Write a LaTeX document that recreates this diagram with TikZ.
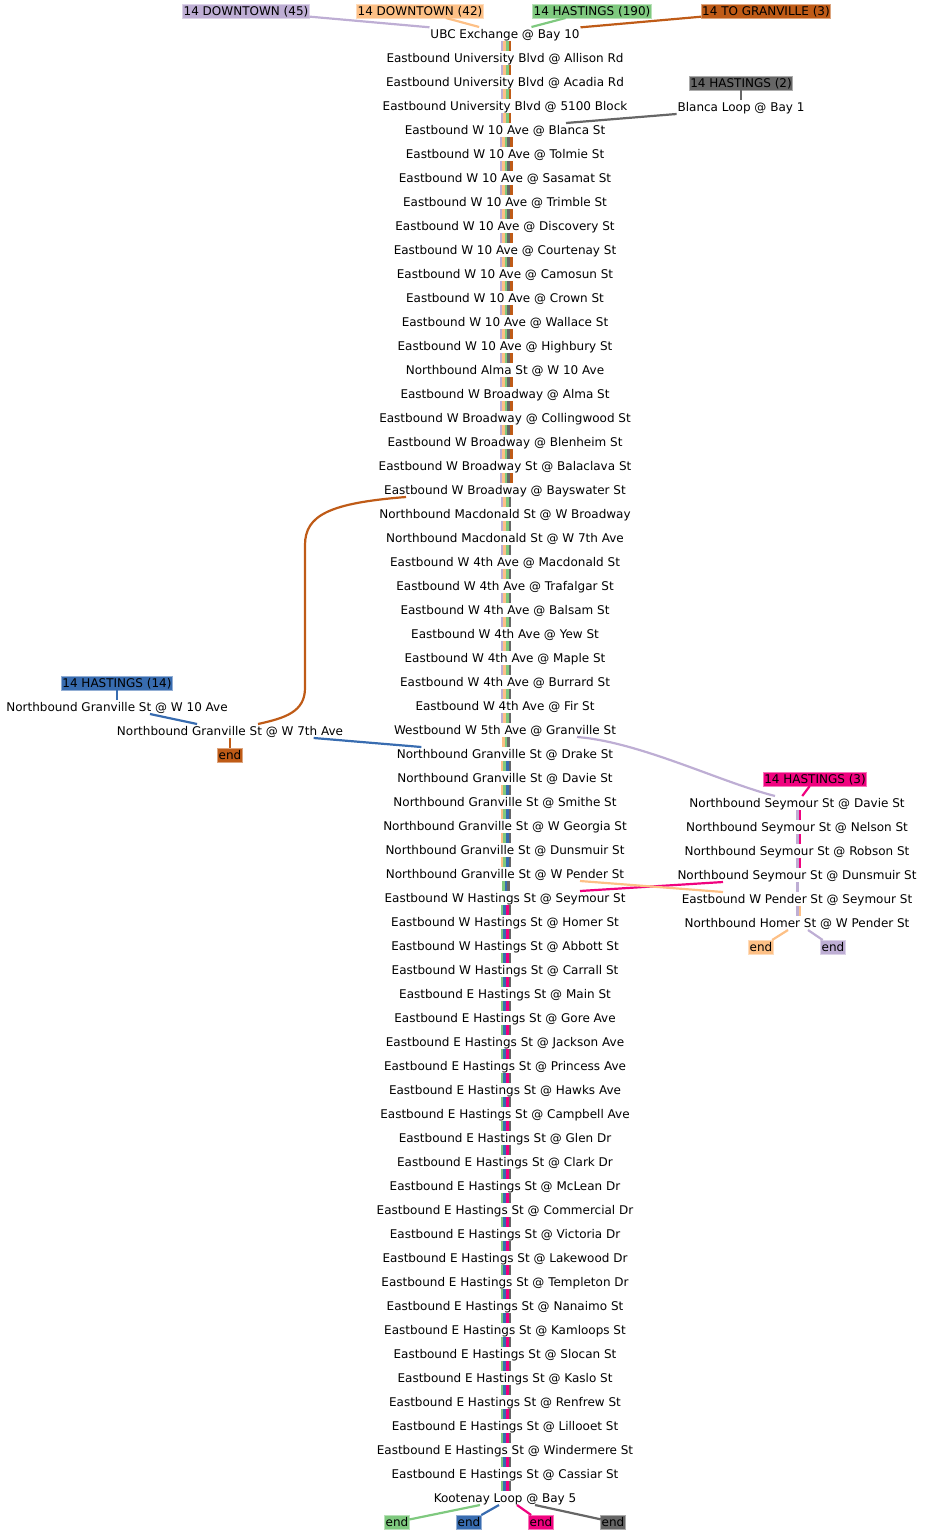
\documentclass[tikz,border=0pt]{standalone}
\usepackage{fontspec}
\setmainfont{DejaVu Sans}
\definecolor{routeGreen}{HTML}{7FC97F}
\definecolor{routeLav}{HTML}{BEAED4}
\definecolor{routePeach}{HTML}{FDC086}
\definecolor{routeBlue}{HTML}{386CB0}
\definecolor{routeMag}{HTML}{F0027F}
\definecolor{routeOrange}{HTML}{BF5B17}
\definecolor{routeGrey}{HTML}{666666}
\usepackage{tikz}
\usetikzlibrary{positioning}

\begin{document}
\begin{tikzpicture}[x=1pt, y=-1pt,
                    stopbox/.style={font=\fontsize{12}{14}\selectfont,
                                    text height=10.5pt, text depth=1.5pt,
                                    inner sep=1pt, outer sep=0pt},
                    tagbox/.style={stopbox, fill=#1, draw=#1!55!white,
                                   line width=0.6pt},
                    conn/.style={line width=2.2pt},
                    segbar/.style={line width=2.6pt},
                    node distance=10pt
                ]
    \useasboundingbox (0,0) rectangle (926,1536);

    % route labels
    \node[tagbox=routeLav] (lab45) at (246,11) {14 DOWNTOWN (45)};
    \node[tagbox=routePeach] (lab42) at (420,11) {14 DOWNTOWN (42)};
    \node[tagbox=routeGreen] (lab190) at (592,11) {14 HASTINGS (190)};
    \node[tagbox=routeOrange] (labTo) at (766,11) {14 TO GRANVILLE (3)};

    % main line
    \node[stopbox] (m0) at (505,34) {UBC Exchange @ Bay 10};
    \node[stopbox, below=of m0] (m1) {Eastbound University Blvd @ Allison Rd};
    \node[stopbox, below=of m1] (m2) {Eastbound University Blvd @ Acadia Rd};
    \node[stopbox, below=of m2] (m3) {Eastbound University Blvd @ 5100 Block};
    \node[stopbox, below=of m3] (m4) {Eastbound W 10 Ave @ Blanca St};
    \node[stopbox, below=of m4] (m5) {Eastbound W 10 Ave @ Tolmie St};
    \node[stopbox, below=of m5] (m6) {Eastbound W 10 Ave @ Sasamat St};
    \node[stopbox, below=of m6] (m7) {Eastbound W 10 Ave @ Trimble St};
    \node[stopbox, below=of m7] (m8) {Eastbound W 10 Ave @ Discovery St};
    \node[stopbox, below=of m8] (m9) {Eastbound W 10 Ave @ Courtenay St};
    \node[stopbox, below=of m9] (m10) {Eastbound W 10 Ave @ Camosun St};
    \node[stopbox, below=of m10] (m11) {Eastbound W 10 Ave @ Crown St};
    \node[stopbox, below=of m11] (m12) {Eastbound W 10 Ave @ Wallace St};
    \node[stopbox, below=of m12] (m13) {Eastbound W 10 Ave @ Highbury St};
    \node[stopbox, below=of m13] (m14) {Northbound Alma St @ W 10 Ave};
    \node[stopbox, below=of m14] (m15) {Eastbound W Broadway @ Alma St};
    \node[stopbox, below=of m15] (m16) {Eastbound W Broadway @ Collingwood St};
    \node[stopbox, below=of m16] (m17) {Eastbound W Broadway @ Blenheim St};
    \node[stopbox, below=of m17] (m18) {Eastbound W Broadway St @ Balaclava St};
    \node[stopbox, below=of m18] (m19) {Eastbound W Broadway @ Bayswater St};
    \node[stopbox, below=of m19] (m20) {Northbound Macdonald St @ W Broadway};
    \node[stopbox, below=of m20] (m21) {Northbound Macdonald St @ W 7th Ave};
    \node[stopbox, below=of m21] (m22) {Eastbound W 4th Ave @ Macdonald St};
    \node[stopbox, below=of m22] (m23) {Eastbound W 4th Ave @ Trafalgar St};
    \node[stopbox, below=of m23] (m24) {Eastbound W 4th Ave @ Balsam St};
    \node[stopbox, below=of m24] (m25) {Eastbound W 4th Ave @ Yew St};
    \node[stopbox, below=of m25] (m26) {Eastbound W 4th Ave @ Maple St};
    \node[stopbox, below=of m26] (m27) {Eastbound W 4th Ave @ Burrard St};
    \node[stopbox, below=of m27] (m28) {Eastbound W 4th Ave @ Fir St};
    \node[stopbox, below=of m28] (m29) {Westbound W 5th Ave @ Granville St};
    \node[stopbox, below=of m29] (m30) {Northbound Granville St @ Drake St};
    \node[stopbox, below=of m30] (m31) {Northbound Granville St @ Davie St};
    \node[stopbox, below=of m31] (m32) {Northbound Granville St @ Smithe St};
    \node[stopbox, below=of m32] (m33) {Northbound Granville St @ W Georgia St};
    \node[stopbox, below=of m33] (m34) {Northbound Granville St @ Dunsmuir St};
    \node[stopbox, below=of m34] (m35) {Northbound Granville St @ W Pender St};
    \node[stopbox, below=of m35] (m36) {Eastbound W Hastings St @ Seymour St};
    \node[stopbox, below=of m36] (m37) {Eastbound W Hastings St @ Homer St};
    \node[stopbox, below=of m37] (m38) {Eastbound W Hastings St @ Abbott St};
    \node[stopbox, below=of m38] (m39) {Eastbound W Hastings St @ Carrall St};
    \node[stopbox, below=of m39] (m40) {Eastbound E Hastings St @ Main St};
    \node[stopbox, below=of m40] (m41) {Eastbound E Hastings St @ Gore Ave};
    \node[stopbox, below=of m41] (m42) {Eastbound E Hastings St @ Jackson Ave};
    \node[stopbox, below=of m42] (m43) {Eastbound E Hastings St @ Princess Ave};
    \node[stopbox, below=of m43] (m44) {Eastbound E Hastings St @ Hawks Ave};
    \node[stopbox, below=of m44] (m45) {Eastbound E Hastings St @ Campbell Ave};
    \node[stopbox, below=of m45] (m46) {Eastbound E Hastings St @ Glen Dr};
    \node[stopbox, below=of m46] (m47) {Eastbound E Hastings St @ Clark Dr};
    \node[stopbox, below=of m47] (m48) {Eastbound E Hastings St @ McLean Dr};
    \node[stopbox, below=of m48] (m49) {Eastbound E Hastings St @ Commercial Dr};
    \node[stopbox, below=of m49] (m50) {Eastbound E Hastings St @ Victoria Dr};
    \node[stopbox, below=of m50] (m51) {Eastbound E Hastings St @ Lakewood Dr};
    \node[stopbox, below=of m51] (m52) {Eastbound E Hastings St @ Templeton Dr};
    \node[stopbox, below=of m52] (m53) {Eastbound E Hastings St @ Nanaimo St};
    \node[stopbox, below=of m53] (m54) {Eastbound E Hastings St @ Kamloops St};
    \node[stopbox, below=of m54] (m55) {Eastbound E Hastings St @ Slocan St};
    \node[stopbox, below=of m55] (m56) {Eastbound E Hastings St @ Kaslo St};
    \node[stopbox, below=of m56] (m57) {Eastbound E Hastings St @ Renfrew St};
    \node[stopbox, below=of m57] (m58) {Eastbound E Hastings St @ Lillooet St};
    \node[stopbox, below=of m58] (m59) {Eastbound E Hastings St @ Windermere St};
    \node[stopbox, below=of m59] (m60) {Eastbound E Hastings St @ Cassiar St};
    \node[stopbox, below=of m60] (m61) {Kootenay Loop @ Bay 5};

    \node[tagbox=routeGreen, below=of m61, xshift=-108pt] (endGrn) {end};
    \node[tagbox=routeBlue, below=of m61, xshift=-36pt] (endBlu) {end};
    \node[tagbox=routeMag, below=of m61, xshift=36pt] (endMag) {end};
    \node[tagbox=routeGrey, below=of m61, xshift=108pt] (endGry) {end};

    % Blanca branch
    \node[stopbox] (blanca) at (741,107) {Blanca Loop @ Bay 1};
    \node[tagbox=routeGrey, above=of blanca] (lab2) {14 HASTINGS (2)};

    % Granville branch
    \node[stopbox] (gran10) at (117,707) {Northbound Granville St @ W 10 Ave};
    \node[tagbox=routeBlue, above=of gran10] (lab14) {14 HASTINGS (14)};
    \node[stopbox] (gran7) at (230,731) {Northbound Granville St @ W 7th Ave};
    \node[tagbox=routeOrange, below=of gran7] (endOrg) {end};

    % Seymour branch
    \node[stopbox] (sey1) at (797,803) {Northbound Seymour St @ Davie St};
    \node[tagbox=routeMag, above=of sey1, xshift=18pt] (lab3) {14 HASTINGS (3)};
    \node[stopbox, below=of sey1] (sey2) {Northbound Seymour St @ Nelson St};
    \node[stopbox, below=of sey2] (sey3) {Northbound Seymour St @ Robson St};
    \node[stopbox, below=of sey3] (sey4) {Northbound Seymour St @ Dunsmuir St};
    \node[stopbox, below=of sey4] (pend) {Eastbound W Pender St @ Seymour St};
    \node[stopbox, below=of pend] (homer) {Northbound Homer St @ W Pender St};
    \node[tagbox=routePeach, below=of homer, xshift=-36pt] (endPea) {end};
    \node[tagbox=routeLav, below=of homer, xshift=36pt] (endLav) {end};

    % shared segments of the main line
    \foreach \from/\to/\n/\cols in {0/3/4/{routeLav,routePeach,routeGreen,routeOrange},
                                    4/18/5/{routeLav,routePeach,routeGreen,routeGrey,routeOrange},
                                    19/28/4/{routeLav,routePeach,routeGreen,routeGrey},
                                    29/29/3/{routePeach,routeGreen,routeGrey},
                                    30/34/4/{routePeach,routeGreen,routeBlue,routeGrey},
                                    35/35/3/{routeGreen,routeBlue,routeGrey},
                                    36/60/4/{routeGreen,routeBlue,routeMag,routeGrey}}{
        \foreach \a in {\from,...,\to}{
            \pgfmathtruncatemacro\b{\a+1}
            \foreach \c [count=\i] in \cols{
                \pgfmathsetmacro\dx{(\i-(\n+1)/2)*2.6+1}
                \draw[segbar, \c] ([xshift=\dx pt]m\a.south) -- ([xshift=\dx pt]m\b.north);
            }
        }
    }
    \foreach \a/\b in {sey1/sey2, sey2/sey3, sey3/sey4}{
        \draw[segbar, routeLav] ([xshift=0.2pt]\a.south) -- ([xshift=0.2pt]\b.north);
        \draw[segbar, routeMag] ([xshift=2.8pt]\a.south) -- ([xshift=2.8pt]\b.north);
    }
    \draw[segbar, routeLav] ([xshift=0.2pt]sey4.south) -- ([xshift=0.2pt]pend.north);
    \draw[segbar, routeLav] ([xshift=0.2pt]pend.south) -- ([xshift=0.2pt]homer.north);
    \draw[segbar, routePeach] ([xshift=2.8pt]pend.south) -- ([xshift=2.8pt]homer.north);

    % connectors
    \draw[conn, routeLav] (lab45) -- (m0);
    \draw[conn, routePeach] (lab42) -- (m0);
    \draw[conn, routeGreen] (lab190) -- (m0);
    \draw[conn, routeOrange] (labTo) -- (m0);
    \draw[conn, routeGrey] (lab2) -- (blanca);
    \draw[conn, routeGrey] (blanca.south west) -- ([xshift=61pt]m4.north);
    \draw[conn, routeOrange] ([xshift=-99pt]m19.south) .. controls (330,503) and (305,515) .. (305,545)
        -- (305,688) .. controls (305,712) and (285,718) .. ([xshift=28pt]gran7.north);
    \draw[conn, routeOrange] (gran7) -- (endOrg);
    \draw[conn, routeBlue] (lab14) -- (gran10);
    \draw[conn, routeBlue] (gran10) -- (gran7);
    \draw[conn, routeBlue] (gran7) -- (m30);
    \draw[conn, routeLav] ([xshift=72pt]m29.south) .. controls (640,742) and (720,782) .. ([xshift=-22pt]sey1.north);
    \draw[conn, routeMag] (lab3) -- (sey1);
    \draw[conn, routeMag] ([xshift=-74pt]sey4.south) -- ([xshift=75pt]m36.north);
    \draw[conn, routePeach] ([xshift=75pt]m35.south) -- ([xshift=-74pt]pend.north);
    \draw[conn, routePeach] ([xshift=-9pt]homer.south) -- (endPea);
    \draw[conn, routeLav] ([xshift=11pt]homer.south) -- (endLav);
    \draw[conn, routeGreen] ([xshift=-25pt]m61.south) -- (endGrn);
    \draw[conn, routeBlue] ([xshift=-6pt]m61.south) -- (endBlu);
    \draw[conn, routeMag] ([xshift=12pt]m61.south) -- (endMag);
    \draw[conn, routeGrey] ([xshift=30pt]m61.south) -- (endGry);
\end{tikzpicture}
\end{document}
